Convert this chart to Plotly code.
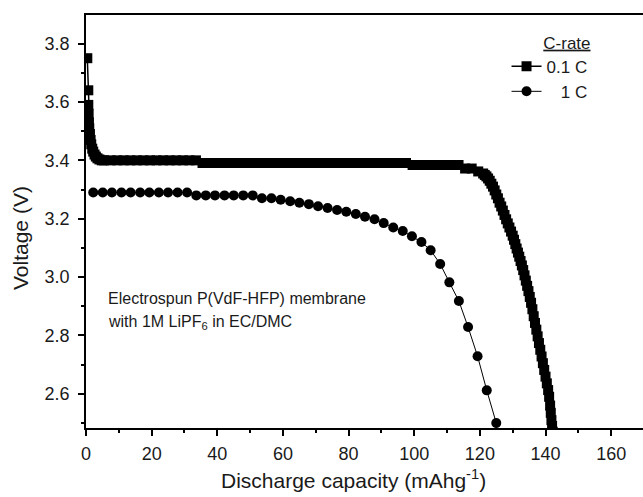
import plotly.graph_objects as go

# 0.1 C series (dense squares)
cap_01 = [0.4, 0.7, 0.7, 0.8, 0.9, 1.0, 1.2, 1.4, 1.6, 1.9, 2.2, 2.6, 3.0, 3.5, 4.1, 4.8,
          5.5, 7.5, 9.5, 11.5, 13.5, 15.5, 17.5, 19.5, 21.5, 23.5, 25.5, 27.5, 29.5, 31.5, 33.5,
          35.5, 37.5, 39.5, 41.5, 43.5, 45.5, 47.5, 49.5, 51.5, 53.5, 55.5, 57.5, 59.5, 61.5, 63.5, 65.5,
          67.5, 69.5, 71.5, 73.5, 75.5, 77.5, 79.5, 81.5, 83.5, 85.5, 87.5, 89.5, 91.5, 93.5, 95.5, 97.5,
          99.5, 101.5, 103.5, 105.5, 107.5, 109.5, 111.5, 113.5,
          115.5, 117.5, 119.5,
          121.0, 121.5, 122.0, 122.5, 123.0, 123.5, 124.0, 124.5, 125.0, 125.5, 126.0, 126.5, 127.0,
          127.5, 128.0, 128.5, 129.0, 129.5, 130.0, 130.4, 130.8, 131.2, 131.6, 132.0, 132.4, 132.8,
          133.2, 133.6, 134.0, 134.4, 134.8, 135.2, 135.6, 136.0, 136.4, 136.8, 137.2, 137.6, 138.0,
          138.4, 138.8, 139.2, 139.6, 140.0, 140.4, 140.8, 141.1, 141.4, 141.6, 141.8, 142.0, 142.2]
v_01 = [3.75, 3.64, 3.59, 3.56, 3.53, 3.51, 3.49, 3.47, 3.455, 3.44, 3.43, 3.42, 3.413, 3.407, 3.403, 3.400,
        3.400, 3.400, 3.400, 3.400, 3.400, 3.400, 3.400, 3.400, 3.400, 3.400, 3.400, 3.400, 3.400, 3.400, 3.400,
        3.391, 3.391, 3.391, 3.391, 3.391, 3.391, 3.391, 3.391, 3.391, 3.391, 3.391, 3.391, 3.391, 3.391, 3.391, 3.391,
        3.391, 3.391, 3.391, 3.391, 3.391, 3.391, 3.391, 3.391, 3.391, 3.391, 3.391, 3.391, 3.391, 3.391, 3.391, 3.391,
        3.384, 3.384, 3.384, 3.384, 3.384, 3.384, 3.384, 3.384,
        3.372, 3.372, 3.362,
        3.355, 3.350, 3.345, 3.338, 3.330, 3.320, 3.310, 3.297, 3.283, 3.270, 3.255, 3.242, 3.228,
        3.213, 3.198, 3.184, 3.170, 3.156, 3.142, 3.128, 3.113, 3.098, 3.084, 3.070, 3.055, 3.040,
        3.024, 3.006, 2.988, 2.970, 2.952, 2.932, 2.912, 2.890, 2.866, 2.843, 2.820, 2.797, 2.774,
        2.751, 2.728, 2.705, 2.682, 2.659, 2.636, 2.613, 2.590, 2.560, 2.535, 2.510, 2.490, 2.470]

# 1 C series (circles)
cap_1 = [2.2, 5.1, 7.9, 10.8, 13.6, 16.5, 19.3, 22.2, 25.0, 27.9, 30.8, 33.6, 36.5, 39.3, 42.2,
         45.0, 47.9, 50.8, 53.6, 56.5, 59.3, 62.2, 65.0, 67.9, 70.7, 73.6, 76.5, 79.3, 82.2, 85.0,
         87.9, 90.7, 93.6, 96.5, 99.3, 102.2, 105.0, 107.9, 110.7, 113.6, 116.4, 119.3, 122.1, 125.0]
v_1 = [3.290, 3.290, 3.290, 3.290, 3.290, 3.290, 3.290, 3.290, 3.290, 3.290, 3.290, 3.280, 3.280, 3.280, 3.280,
       3.280, 3.280, 3.280, 3.270, 3.270, 3.265, 3.260, 3.255, 3.250, 3.243, 3.237, 3.230, 3.224, 3.216, 3.207,
       3.198, 3.185, 3.170, 3.158, 3.140, 3.120, 3.092, 3.045, 2.982, 2.918, 2.829, 2.729, 2.612, 2.500]

FONT = "Liberation Sans, Arial, sans-serif"
TXT = "#1a1a1a"

fig = go.Figure()
fig.add_trace(go.Scatter(x=cap_01, y=v_01, mode="lines+markers", name="0.1 C",
                         line=dict(color="black", width=1.5),
                         marker=dict(symbol="square", size=10, color="black")))
fig.add_trace(go.Scatter(x=cap_1, y=v_1, mode="lines+markers", name="\u00a0\u00a0\u00a01 C",
                         line=dict(color="black", width=1),
                         marker=dict(symbol="circle", size=10, color="black")))

fig.add_annotation(x=6.1, y=2.925, xref="x", yref="y", xanchor="left", yanchor="middle",
                   text="Electrospun P(VdF-HFP) membrane", showarrow=False,
                   font=dict(family=FONT, size=16, color=TXT))
fig.add_annotation(x=6.1, y=2.846, xref="x", yref="y", xanchor="left", yanchor="middle",
                   text="with 1M LiPF<sub>6</sub> in EC/DMC", showarrow=False,
                   font=dict(family=FONT, size=16, color=TXT))

# axis titles
fig.add_annotation(x=0.4794, y=-0.124, xref="paper", yref="paper", xanchor="center", yanchor="middle",
                   text="Discharge capacity (mAhg<sup>-1</sup>)", showarrow=False,
                   font=dict(family=FONT, size=21, color=TXT))
fig.add_annotation(x=-0.1185, y=0.46, xref="paper", yref="paper", xanchor="center", yanchor="middle",
                   text="Voltage (V)", showarrow=False, textangle=-90,
                   font=dict(family=FONT, size=21, color=TXT))

fig.update_layout(
    width=643, height=497,
    margin=dict(l=86, r=0, t=15, b=69),
    paper_bgcolor="white", plot_bgcolor="white",
    font=dict(family=FONT, color=TXT),
    showlegend=True,
    legend=dict(x=0.755, y=0.972, xanchor="left", yanchor="top",
                bgcolor="rgba(0,0,0,0)", font=dict(family=FONT, size=17, color=TXT),
                title=dict(text="<u>C-rate</u>", side="top right",
                           font=dict(family=FONT, size=17, color=TXT)),
                tracegroupgap=0),
    xaxis=dict(range=[0, 169.7], tick0=0, dtick=20, ticks="outside", ticklen=6, tickwidth=1.5,
               tickcolor="black", showline=True, linecolor="black", linewidth=1.5, mirror=True,
               showgrid=False, zeroline=False, ticklabelstandoff=3,
               tickfont=dict(family=FONT, size=18, color=TXT),
               minor=dict(dtick=10, ticks="outside", ticklen=3, tickwidth=1.5, tickcolor="black", showgrid=False)),
    yaxis=dict(range=[2.483, 3.898], tick0=2.6, dtick=0.2, tickformat=".1f", ticks="outside", ticklen=6,
               tickwidth=1.5, tickcolor="black", showline=True, linecolor="black", linewidth=1.5,
               mirror=False, showgrid=False, zeroline=False, ticklabelstandoff=5,
               tickfont=dict(family=FONT, size=18, color=TXT),
               minor=dict(dtick=0.1, ticks="outside", ticklen=3, tickwidth=1.5, tickcolor="black", showgrid=False)),
)

fig.write_html("out.html")
